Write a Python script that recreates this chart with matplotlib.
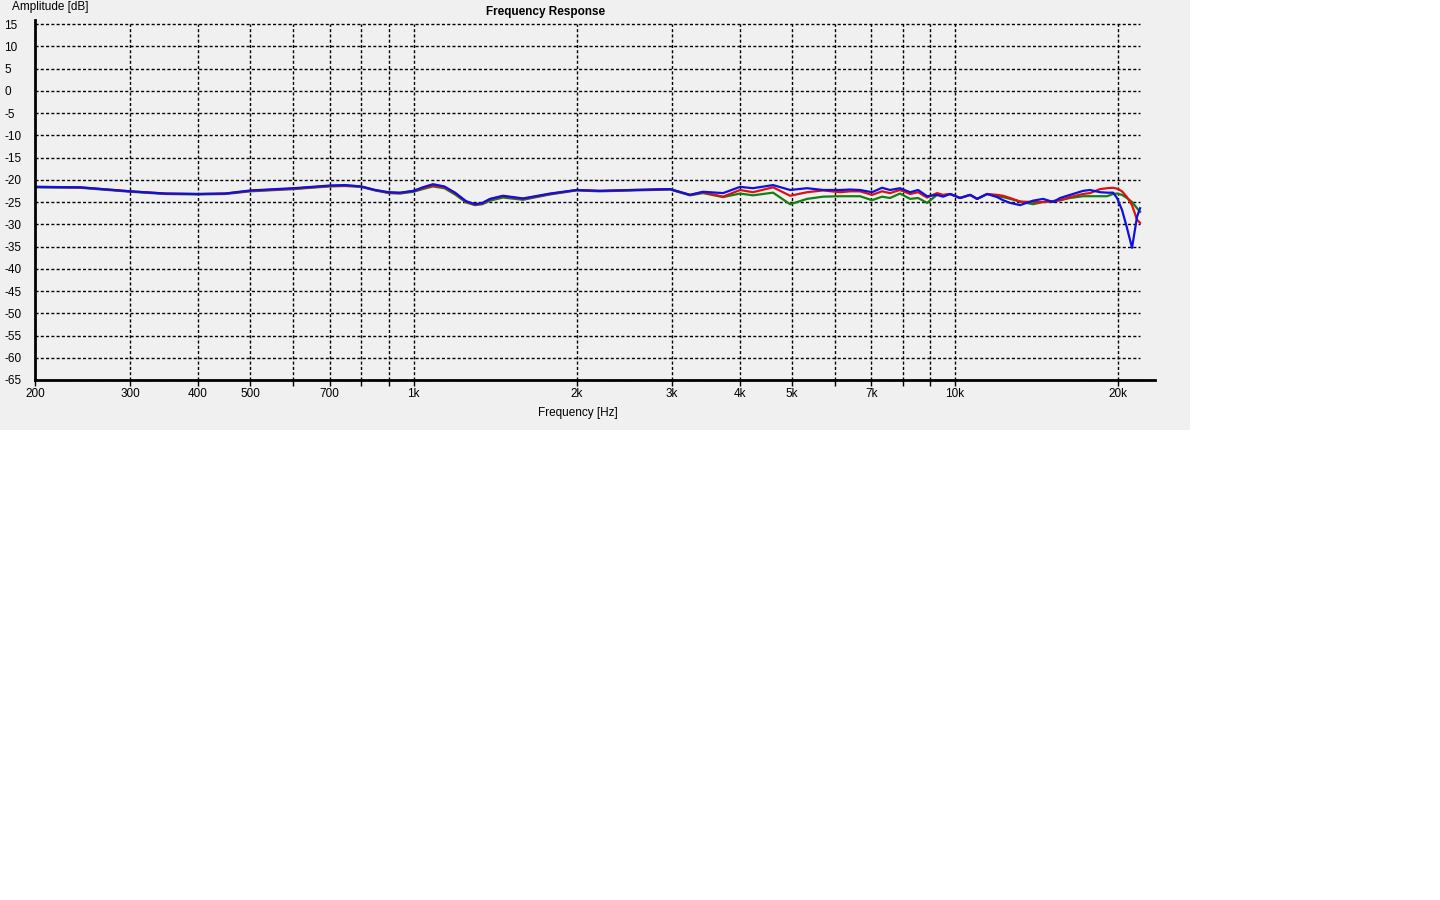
import matplotlib
matplotlib.use("Agg")
import matplotlib.pyplot as plt
from matplotlib.patches import Rectangle
from matplotlib.ticker import NullLocator

plt.rcParams['font.family'] = ['Liberation Sans', 'DejaVu Sans']

# measured response, Hz / dB
freq_hz = [200, 242, 300, 348, 400, 449, 500, 600, 700,
           747, 800, 849, 900, 944, 1000, 1040, 1086, 1140, 1193, 1250, 1299, 1340,
           1384, 1463, 1593, 1787, 2000, 2208, 2543, 2977, 3240,
           3424, 3729, 4008, 4234, 4612, 4960, 5330, 5705, 6134,
           6401, 6677, 7026, 7330, 7584, 7912, 8261, 8546, 8878,
           9261, 9503, 9793, 10214, 10662, 10984, 11462, 11958, 12266,
           12638, 13183, 13932, 14540, 15172, 15632, 16306, 17232, 17754,
           18528, 19086, 19580, 19912, 20340, 20770, 21222, 21680, 21960]

green_db = [-21.7, -21.8, -22.7, -23.2, -23.3, -23.2, -22.6, -22.1, -21.5,
            -21.4, -21.6, -22.4, -23.0, -23.1, -22.7, -22.1, -21.5, -21.9, -23.3, -25.1, -25.7, -25.5,
            -24.7, -24.0, -24.5, -23.3, -22.4, -22.6, -22.4, -22.2, -23.5,
            -23.0, -23.9, -23.1, -23.5, -22.9, -25.5, -24.3, -23.8, -23.7,
            -23.7, -23.7, -24.6, -23.8, -24.1, -23.1, -24.3, -24.1, -25.2,
            -23.4, -23.5, -23.2, -24.1, -23.4, -24.3, -23.2, -23.7, -23.9,
            -24.3, -24.9, -25.5, -25.0, -24.8, -24.6, -24.1, -23.7, -23.7,
            -23.7, -23.7, -23.2, -23.1, -23.4, -24.1, -25.0, -26.4, -27.2]

red_db = [-21.6, -21.7, -22.6, -23.1, -23.2, -23.1, -22.5, -22.0, -21.4,
          -21.3, -21.5, -22.3, -22.9, -23.0, -22.5, -21.9, -21.3, -21.7, -23.0, -24.9, -25.6, -25.3,
          -24.4, -23.7, -24.3, -23.2, -22.3, -22.5, -22.3, -22.1, -23.4,
          -22.8, -23.8, -22.3, -22.8, -21.7, -23.6, -22.8, -22.4, -22.8,
          -22.6, -22.6, -23.4, -22.6, -23.0, -22.3, -23.2, -22.8, -24.0,
          -23.0, -23.4, -23.2, -24.1, -23.4, -24.3, -23.2, -23.4, -23.6,
          -24.1, -24.9, -25.0, -25.0, -24.8, -24.6, -23.9, -23.2, -23.0,
          -22.1, -21.9, -21.8, -22.0, -22.6, -23.9, -25.7, -29.0, -29.7]

blue_db = [-21.6, -21.7, -22.6, -23.1, -23.2, -23.1, -22.4, -21.9, -21.3,
           -21.2, -21.5, -22.3, -22.8, -22.9, -22.5, -21.7, -21.0, -21.5, -22.9, -24.8, -25.5, -25.2,
           -24.3, -23.6, -24.2, -23.1, -22.3, -22.5, -22.3, -22.1, -23.4,
           -22.7, -23.0, -21.6, -21.9, -21.2, -22.3, -21.9, -22.3, -22.3,
           -22.2, -22.3, -22.8, -21.8, -22.3, -21.9, -22.8, -22.3, -23.7,
           -23.4, -23.8, -23.2, -24.1, -23.4, -24.3, -23.2, -23.9, -24.6,
           -25.2, -25.7, -24.7, -24.3, -25.0, -24.1, -23.4, -22.5, -22.3,
           -22.8, -22.9, -22.9, -24.1, -26.8, -30.8, -35.3, -28.3, -26.4]

y_ticks = [15, 10, 5, 0, -5, -10, -15, -20, -25, -30, -35, -40, -45,
           -50, -55, -60, -65]
x_grid = [300, 400, 500, 600, 700, 800, 900, 1000, 2000, 3000, 4000,
          5000, 6000, 7000, 8000, 9000, 10000, 20000]
x_ticks = [200] + x_grid
x_labels = ['200', '300', '400', '500', '', '700', '', '', '1k', '2k', '3k',
            '4k', '5k', '', '7k', '', '', '10k', '20k']

fig = plt.figure(figsize=(14.4, 9), dpi=100)
fig.patch.set_facecolor('white')
fig.add_artist(Rectangle((0, 470 / 900), 1190 / 1440, 430 / 900,
                         transform=fig.transFigure, facecolor='#f0f0f0',
                         edgecolor='none', zorder=-10))

ax = fig.add_axes([35 / 1440, 520 / 900, 1120 / 1440, 360 / 900])
ax.set_facecolor('none')
ax.set_xscale('log')
ax.set_xlim(200, 23400)
ax.set_ylim(-65, 15.9)

dash = (0, (2.2, 1.6))
ax.vlines(x_grid, -65, 15, colors='black', linestyles=dash, lw=1, zorder=1)
ax.hlines(y_ticks, 200, 21960, colors='black', linestyles=dash, lw=1, zorder=1)

ax.plot(freq_hz, green_db, color='#128012', lw=1.6, zorder=3)
ax.plot(freq_hz, red_db, color='#e01010', lw=1.6, zorder=4)
ax.plot(freq_hz, blue_db, color='#1010e0', lw=1.6, zorder=5)

ax.xaxis.set_minor_locator(NullLocator())
ax.set_xticks(x_ticks)
ax.set_xticklabels(x_labels)
ax.set_yticks(y_ticks)
ax.set_yticklabels([str(v) for v in y_ticks])
ax.tick_params(axis='x', length=4.5, width=1, direction='out', pad=1.5,
               labelsize=8.5, colors='black')
ax.tick_params(axis='y', length=0, pad=22.3, labelsize=8.5)
for lab in ax.get_yticklabels():
    lab.set_horizontalalignment('left')

for s in ['top', 'right']:
    ax.spines[s].set_visible(False)
for s in ['left', 'bottom']:
    ax.spines[s].set_linewidth(2)
    ax.spines[s].set_zorder(6)

fig.text(546 / 1440, 1 - 12 / 900, 'Frequency Response', ha='center',
         va='center', fontsize=8.5, fontweight='bold')
fig.text(12 / 1440, 1 - 7 / 900, 'Amplitude [dB]', ha='left', va='center',
         fontsize=8.5)
fig.text(578 / 1440, 1 - 413 / 900, 'Frequency [Hz]', ha='center',
         va='center', fontsize=8.5)

fig.savefig('out.png', dpi=100)
